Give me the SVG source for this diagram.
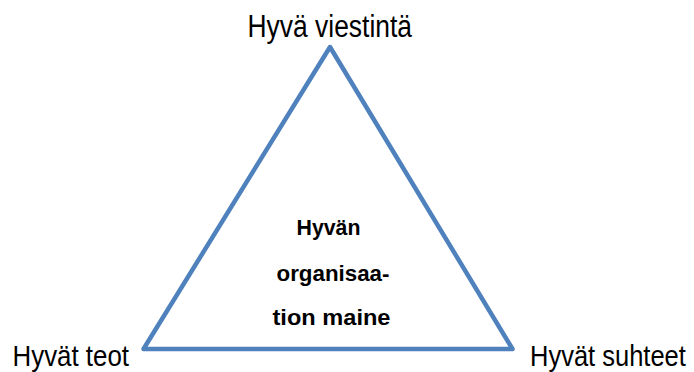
<svg xmlns="http://www.w3.org/2000/svg" width="694" height="372" viewBox="0 0 694 372">
<style>
.lbl{font-family:"Liberation Sans Narrow","Liberation Sans",Arial,sans-serif;font-size:31px;fill:#000}
.bot{font-size:30px}
.ctr{font-family:"Liberation Sans Narrow","Liberation Sans",Arial,sans-serif;font-size:22px;font-weight:bold;fill:#000}
.edge{fill:none;stroke:#4F81BD;stroke-width:4.5;stroke-linejoin:round;stroke-linecap:round}
</style>
<rect width="694" height="372" fill="#fff"/>
<g id="connectors">
<path class="edge" d="M330,47 L512.5,349 L143.5,349 Z"/>
</g>
<g id="node-top">
<text class="lbl" x="247.5" y="37.3" textLength="164.5" lengthAdjust="spacingAndGlyphs">Hyvä viestintä</text>
</g>
<g id="node-left">
<text class="lbl bot" x="12.5" y="365.5" textLength="116.5" lengthAdjust="spacingAndGlyphs">Hyvät teot</text>
</g>
<g id="node-right">
<text class="lbl bot" transform="translate(530,365.5) scale(0.85,1)" x="0" y="0">Hyvät suhteet</text>
</g>
<g id="node-center">
<text class="ctr" x="296.5" y="235" textLength="64" lengthAdjust="spacingAndGlyphs">Hyvän</text>
<text class="ctr" x="276.5" y="280.7" textLength="113" lengthAdjust="spacingAndGlyphs">organisaa-</text>
<text class="ctr" x="272.5" y="325" textLength="118" lengthAdjust="spacingAndGlyphs">tion maine</text>
</g>
</svg>
